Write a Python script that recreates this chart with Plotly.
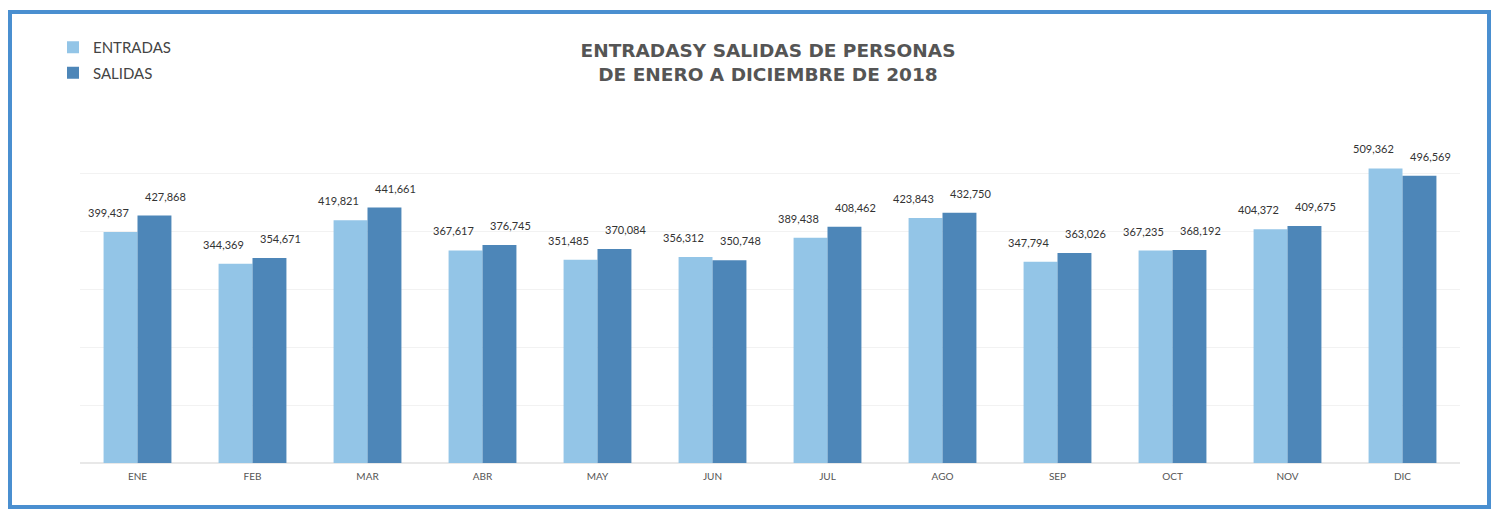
import plotly.graph_objects as go

meses = ["ENE", "FEB", "MAR", "ABR", "MAY", "JUN", "JUL", "AGO", "SEP", "OCT", "NOV", "DIC"]
entradas = [399437, 344369, 419821, 367617, 351485, 356312, 389438, 423843, 347794, 367235, 404372, 509362]
salidas = [427868, 354671, 441661, 376745, 370084, 350748, 408462, 432750, 363026, 368192, 409675, 496569]

C_ENT = "#93c5e7"
C_SAL = "#4d86b8"
FONT = "Lato"

fig = go.Figure()
fig.add_trace(go.Bar(x=meses, y=entradas, name="ENTRADAS", marker_color=C_ENT,
                     marker_line_width=0, legendgroup="a"))
fig.add_trace(go.Bar(x=meses, y=salidas, name="SALIDAS", marker_color=C_SAL,
                     marker_line_width=0, legendgroup="b"))

annotations = []
for m, v in zip(meses, entradas):
    annotations.append(dict(x=m, y=v, text=f"{v:,}", showarrow=False, xref="x", yref="y",
                            yanchor="bottom", xshift=-29, yshift=11,
                            font=dict(family=FONT, size=11, color="#333")))
for m, v in zip(meses, salidas):
    annotations.append(dict(x=m, y=v, text=f"{v:,}", showarrow=False, xref="x", yref="y",
                            yanchor="bottom", xshift=28, yshift=11,
                            font=dict(family=FONT, size=11, color="#333")))

fig.update_layout(
    width=1494, height=510,
    margin=dict(l=80, r=34, t=116, b=47),
    paper_bgcolor="white", plot_bgcolor="white",
    barmode="group", bargap=0.41, bargroupgap=0,
    font=dict(family=FONT, color="#444"),
    title=dict(text="<b>ENTRADASY SALIDAS DE PERSONAS<br>DE ENERO A DICIEMBRE DE 2018</b>",
               x=(768 - 80) / 1380, xanchor="center", xref="paper",
               y=1 - 57/510, yanchor="top", yref="container",
               font=dict(family="DejaVu Sans", size=18.5, color="#555")),
    legend=dict(x=(53 - 80) / 1380, xanchor="left", y=(463 - 31) / 347, yanchor="top",
                orientation="v", traceorder="grouped", tracegroupgap=3,
                itemwidth=30, bgcolor="rgba(0,0,0,0)",
                font=dict(family=FONT, size=15, color="#444")),
    xaxis=dict(showline=False, ticks="", ticklabelstandoff=6,
               tickfont=dict(family=FONT, size=10, color="#555")),
    yaxis=dict(range=[0, 600000], dtick=100000, showticklabels=False, showgrid=True,
               gridcolor="#f2f2f2", zeroline=True, zerolinecolor="#e8e8e8"),
    annotations=annotations,
    shapes=[dict(type="rect", xref="paper", yref="paper",
                 x0=(10 - 80) / 1380, x1=(1489 - 80) / 1380,
                 y0=(463 - 507) / 347, y1=(463 - 12) / 347,
                 line=dict(color="#4a8fd0", width=4), fillcolor="rgba(0,0,0,0)")],
)

fig.write_html("out.html", config={"displayModeBar": False},
               post_script="document.body.style.margin='0';document.body.style.overflow='hidden';")
